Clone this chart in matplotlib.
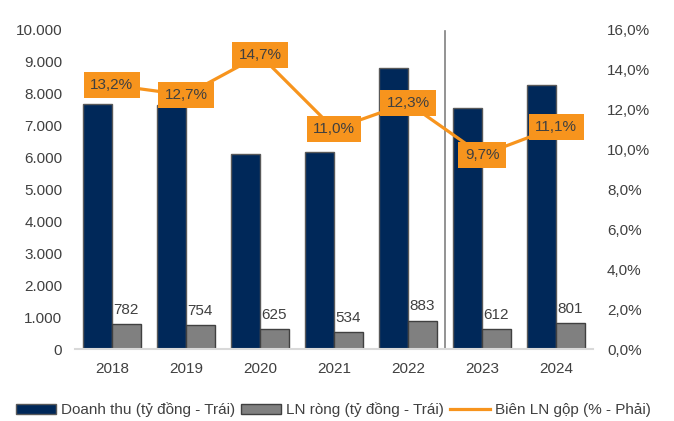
import matplotlib.pyplot as plt
from matplotlib.lines import Line2D
from matplotlib.patches import Patch

plt.rcParams['font.family'] = ['Liberation Sans', 'DejaVu Sans']

# ---------------------------
# Data
# ---------------------------
years = ["2018", "2019", "2020", "2021", "2022", "2023", "2024"]
revenue = [7660, 7640, 6090, 6150, 8780, 7530, 8250]      # Doanh thu (ty dong)
net_profit = [782, 754, 625, 534, 883, 612, 801]           # LN rong (ty dong)
gross_margin = [13.2, 12.7, 14.7, 11.0, 12.3, 9.7, 11.1]   # Bien LN gop (%)

NAVY = "#002859"
GREY = "#808080"
ORANGE = "#F7941D"
TEXT = "#404040"

# ---------------------------
# Figure
# ---------------------------
fig = plt.figure(figsize=(6.74, 4.21), dpi=100)
ax = fig.add_axes([0.111, 0.171, 0.769, 0.760])
ax2 = ax.twinx()

x = list(range(len(years)))
w = 0.39
ax.bar([i - w / 2 for i in x], revenue, width=w, color=NAVY,
       edgecolor="#595959", linewidth=1.0, zorder=2)
ax.bar([i + w / 2 for i in x], net_profit, width=w, color=GREY,
       edgecolor="#404040", linewidth=1.0, zorder=2)
for i, v in enumerate(net_profit):
    ax.text(i + w / 2, v + 230, f"{v}", ha="center", va="bottom",
            fontsize=11, color=TEXT)

ax.set_xlim(-0.5, len(years) - 0.5)
ax.set_ylim(0, 10000)
ax.set_yticks(range(0, 10001, 1000))
ax.set_yticklabels([f"{v:,}".replace(",", ".") for v in range(0, 10001, 1000)])
ax.set_xticks(x)
ax.set_xticklabels(years)
ax.tick_params(axis="both", length=0, labelsize=11, labelcolor=TEXT)
ax.tick_params(axis="y", pad=9)
ax.tick_params(axis="x", pad=9)
for s in ["top", "right", "left"]:
    ax.spines[s].set_visible(False)
ax.spines["bottom"].set_color("#d9d9d9")
ax.spines["bottom"].set_linewidth(1.5)

# separator between actual and forecast
ax.axvline(4.5, ymin=0, ymax=0.995, color="#808080", linewidth=1.2, zorder=1)

# margin line on right axis
ax2.plot(x, gross_margin, color=ORANGE, linewidth=2.3, zorder=3)
for i, v in enumerate(gross_margin):
    ax2.text(i, v, f"{v:.1f}%".replace(".", ","), ha="center", va="center",
             fontsize=11, color=TEXT, zorder=4,
             bbox=dict(boxstyle="square,pad=0.42", facecolor=ORANGE,
                       edgecolor="none"))
ax2.set_ylim(0, 16)
ax2.set_yticks(range(0, 17, 2))
ax2.set_yticklabels([f"{v:.1f}%".replace(".", ",") for v in range(0, 17, 2)])
ax2.tick_params(axis="y", length=0, labelsize=11, labelcolor=TEXT, pad=10)
for s in ax2.spines.values():
    s.set_visible(False)

# ---------------------------
# Legend
# ---------------------------
handles = [
    Patch(facecolor=NAVY, edgecolor="#595959"),
    Patch(facecolor=GREY, edgecolor="#404040"),
    Line2D([0], [0], color=ORANGE, linewidth=2.3),
]
labels = ["Doanh thu (tỷ đồng - Trái)", "LN ròng (tỷ đồng - Trái)",
          "Biên LN gộp (% - Phải)"]
fig.legend(handles, labels, loc="center", bbox_to_anchor=(0.495, 0.026),
           ncol=3, frameon=False, fontsize=11, handlelength=2.6,
           handleheight=0.55, handletextpad=0.35, columnspacing=0.4,
           labelcolor=TEXT)

fig.savefig("out.png", dpi=100)
